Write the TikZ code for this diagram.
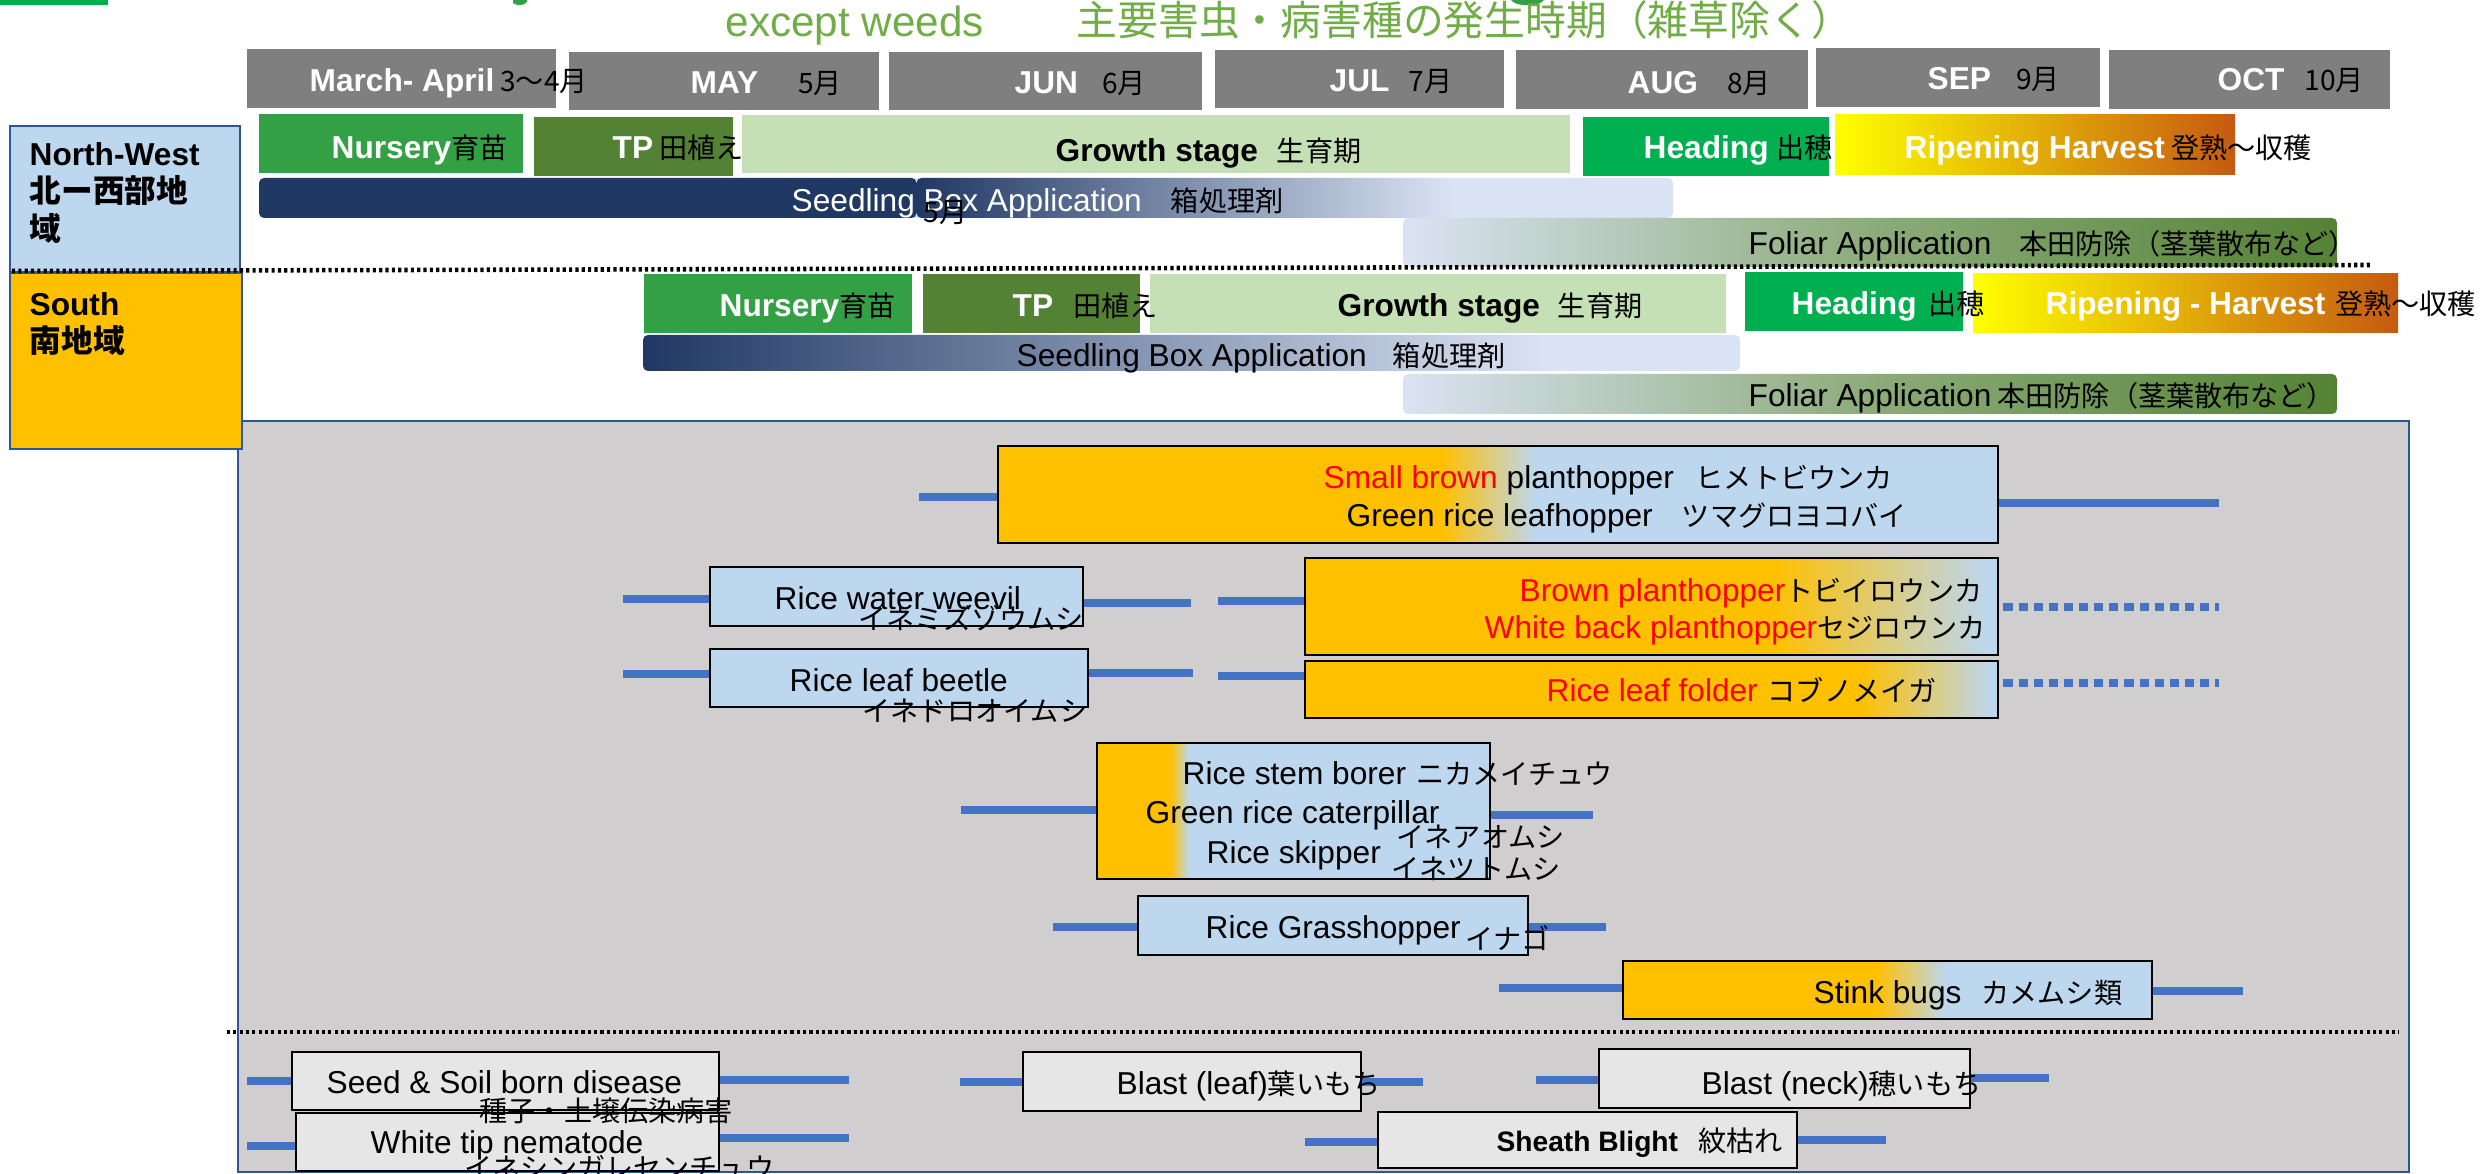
\documentclass[tikz,border=0pt]{standalone}
\usepackage{fontspec}
\setmainfont{Liberation Sans}
\newfontfamily\jp{Noto Sans CJK JP}
\usetikzlibrary{fit,calc}

\definecolor{hdrgray}{RGB}{127,127,127}
\definecolor{nursegreen}{RGB}{52,160,70}
\definecolor{tpgreen}{RGB}{84,130,53}
\definecolor{growthgreen}{RGB}{197,224,180}
\definecolor{headgreen}{RGB}{0,176,80}
\definecolor{ripeyellow}{RGB}{255,255,0}
\definecolor{ripebrown}{RGB}{197,90,17}
\definecolor{navy}{RGB}{32,56,100}
\definecolor{paleblue}{RGB}{218,227,243}
\definecolor{foliarmid}{RGB}{140,172,122}
\definecolor{nwblue}{RGB}{189,215,238}
\definecolor{southgold}{RGB}{255,192,0}
\definecolor{edgeblue}{RGB}{47,85,151}
\definecolor{panelgray}{RGB}{208,206,206}
\definecolor{pestorange}{RGB}{255,192,0}
\definecolor{pestblue}{RGB}{189,215,238}
\definecolor{diseasegray}{RGB}{231,230,230}
\definecolor{whiskerblue}{RGB}{68,114,196}
\definecolor{titlegreen}{RGB}{112,173,71}

\newcommand{\jtxt}[1]{{\jp\fontsize{8}{9}\selectfont #1}}
\newcommand{\wlab}[1]{\textbf{\color{white}#1}}

\begin{document}
\begin{tikzpicture}[x=0.01cm, y=-0.01cm]
% estilos separados
\tikzset{
  stage/.style={inner sep=0pt, draw=none},
  month/.style={stage, fill=hdrgray},
  txt/.style={inner sep=0pt, anchor=west, text height=1.5ex, text depth=.25ex, font=\fontsize{9}{10}\selectfont},
  multi/.style={inner sep=0pt, anchor=west, align=left, font=\bfseries\fontsize{9}{10.7}\selectfont},
  region/.style={inner sep=0pt, draw=edgeblue, line width=0.6pt},
  pest/.style={inner sep=0pt, draw=black, line width=0.8pt, fill=pestblue},
  disease/.style={pest, fill=diseasegray},
  whisker/.style={whiskerblue, line width=2pt},
  dotwhisker/.style={whisker, dash pattern=on 2.6pt off 1.7pt},
  cutline/.style={line width=1.3pt, dash pattern=on 0.9pt off 0.9pt},
  twotone/.style n args={4}{fill=#2, path picture={
    \fill[#1] (path picture bounding box.south west) rectangle
      ($(path picture bounding box.north west)!#3!(path picture bounding box.north east)$);
    \shade[left color=#1, right color=#2]
      ($(path picture bounding box.south west)!#3!(path picture bounding box.south east)$) rectangle
      ($(path picture bounding box.north west)!#4!(path picture bounding box.north east)$);
  }}
}
\useasboundingbox (0,0) rectangle (2483,1174);

% titulo (solo se ven restos)
\fill[headgreen] (0,0) rectangle (108,5);
\fill[nursegreen] (513,0) -- (527,0) -- (527,2) .. controls (524,6) and (516,6) .. (513,3) -- cycle;
\fill[nursegreen] (1511,0) .. controls (1515,7) and (1540,7) .. (1544,0) -- cycle;
\node[txt, text=titlegreen, font=\fontsize{12}{14}\selectfont] (sub) at (725,25) {except weeds};
\node[txt, text=titlegreen, font=\jp\fontsize{11.6}{13}\selectfont] (subjp) at (1076,24) {主要害虫・病害種の発生時期（雑草除く）};

% meses
\node[month, fit={(247,49) (556,108)}] (m-mar) {};
\node[month, fit={(569,52) (879,110)}] (m-may) {};
\node[month, fit={(889,52) (1202,110)}] (m-jun) {};
\node[month, fit={(1215,50) (1504,108)}] (m-jul) {};
\node[month, fit={(1516,50) (1808,109)}] (m-aug) {};
\node[month, fit={(1816,48) (2100,107)}] (m-sep) {};
\node[month, fit={(2109,50) (2390,109)}] (m-oct) {};

% panel de plagas
\node[inner sep=0pt, fill=panelgray, draw=edgeblue, line width=0.8pt, fit={(238,421) (2409,1172)}] (panel) {};

% regiones
\node[region, fill=nwblue, fit={(10,126) (240,272)}] (nw) {};
\node[region, fill=southgold, fit={(10,273) (242,449)}] (south) {};

% norte-oeste
\node[stage, fill=nursegreen, fit={(259,114) (523,173)}] (nw-nur) {};
\node[stage, fill=tpgreen, fit={(534,117) (733,176)}] (nw-tp) {};
\node[stage, fill=growthgreen, fit={(742,115) (1570,173)}] (nw-gro) {};
\node[stage, fill=headgreen, fit={(1583,117) (1829,176)}] (nw-head) {};
\node[stage, left color=ripeyellow, right color=ripebrown, fit={(1835,115) (2235,175)}] (nw-ripe) {};
\node[stage, rounded corners=0.5mm, twotone={navy}{paleblue}{0.465}{0.843}, fit={(259,178) (1673,218)}] (nw-seed) {};
\node[stage, rounded corners=0.5mm, left color=paleblue, right color=tpgreen, middle color=foliarmid, fit={(1403,218) (2337,267)}] (nw-fol) {};
\draw[cutline] (12,271) -- (2372,265);

% sur
\node[stage, fill=nursegreen, fit={(644,274) (912,333)}] (s-nur) {};
\node[stage, fill=tpgreen, fit={(923,274) (1140,333)}] (s-tp) {};
\node[stage, fill=growthgreen, fit={(1150,274) (1726,333)}] (s-gro) {};
\node[stage, fill=headgreen, fit={(1745,272) (1963,331)}] (s-head) {};
\node[stage, left color=ripeyellow, right color=ripebrown, fit={(1973,274) (2398,333)}] (s-ripe) {};
\node[stage, rounded corners=0.5mm, twotone={navy}{paleblue}{0}{0.82}, fit={(643,335) (1740,371)}] (s-seed) {};
\node[stage, rounded corners=0.5mm, left color=paleblue, right color=tpgreen, middle color=foliarmid, fit={(1403,374) (2337,414)}] (s-fol) {};

% plagas
\node[pest, twotone={pestorange}{pestblue}{0.443}{0.537}, fit={(998,446) (1998,543)}] (sbph) {};
\coordinate (sbph-l) at (919,497);
\coordinate (sbph-r) at (2219,503);
\draw[whisker] (sbph-l) -- (sbph-l -| sbph.west);
\draw[whisker] (sbph.east |- sbph-r) -- (sbph-r);

\node[pest, fit={(710,567) (1083,626)}] (rww) {};
\coordinate (rww-l) at (623,599);
\coordinate (rww-r) at (1191,603);
\draw[whisker] (rww-l) -- (rww-l -| rww.west);
\draw[whisker] (rww.east |- rww-r) -- (rww-r);

\node[pest, fit={(710,649) (1088,707)}] (rlb) {};
\coordinate (rlb-l) at (623,674);
\coordinate (rlb-r) at (1193,673);
\draw[whisker] (rlb-l) -- (rlb-l -| rlb.west);
\draw[whisker] (rlb.east |- rlb-r) -- (rlb-r);

\node[pest, twotone={pestorange}{pestblue}{0.675}{0.983}, fit={(1305,558) (1998,655)}] (bph) {};
\coordinate (bph-l) at (1218,601);
\coordinate (bph-r) at (2219,607);
\draw[whisker] (bph-l) -- (bph-l -| bph.west);
\draw[dotwhisker] (bph.east |- bph-r) ++(4,0) -- (bph-r);

\node[pest, twotone={pestorange}{pestblue}{0.8}{0.99}, fit={(1305,661) (1998,718)}] (rlf) {};
\coordinate (rlf-l) at (1218,676);
\coordinate (rlf-r) at (2219,683);
\draw[whisker] (rlf-l) -- (rlf-l -| rlf.west);
\draw[dotwhisker] (rlf.east |- rlf-r) ++(4,0) -- (rlf-r);

\node[pest, twotone={pestorange}{pestblue}{0.186}{0.234}, fit={(1097,743) (1490,879)}] (rsb) {};
\coordinate (rsb-l) at (961,810);
\coordinate (rsb-r) at (1593,815);
\draw[whisker] (rsb-l) -- (rsb-l -| rsb.west);
\draw[whisker] (rsb.east |- rsb-r) -- (rsb-r);

\node[pest, fit={(1138,896) (1528,955)}] (rgh) {};
\coordinate (rgh-l) at (1053,927);
\coordinate (rgh-r) at (1606,927);
\draw[whisker] (rgh-l) -- (rgh-l -| rgh.west);
\draw[whisker] (rgh.east |- rgh-r) -- (rgh-r);

\node[pest, twotone={pestorange}{pestblue}{0.478}{0.609}, fit={(1623,961) (2152,1019)}] (stb) {};
\coordinate (stb-l) at (1499,988);
\coordinate (stb-r) at (2243,991);
\draw[whisker] (stb-l) -- (stb-l -| stb.west);
\draw[whisker] (stb.east |- stb-r) -- (stb-r);

\draw[cutline] (227,1032) -- (2399,1032);

% enfermedades
\node[disease, fit={(292,1052) (719,1110)}] (ssd) {};
\coordinate (ssd-l) at (247,1081);
\coordinate (ssd-r) at (849,1080);
\draw[whisker] (ssd-l) -- (ssd-l -| ssd.west);
\draw[whisker] (ssd.east |- ssd-r) -- (ssd-r);

\node[disease, fit={(296,1113) (719,1171)}] (wtn) {};
\coordinate (wtn-l) at (247,1146);
\coordinate (wtn-r) at (849,1138);
\draw[whisker] (wtn-l) -- (wtn-l -| wtn.west);
\draw[whisker] (wtn.east |- wtn-r) -- (wtn-r);

\node[disease, fit={(1023,1052) (1361,1111)}] (blf) {};
\coordinate (blf-l) at (960,1082);
\coordinate (blf-r) at (1423,1082);
\draw[whisker] (blf-l) -- (blf-l -| blf.west);
\draw[whisker] (blf.east |- blf-r) -- (blf-r);

\node[disease, fit={(1599,1049) (1970,1108)}] (bnk) {};
\coordinate (bnk-l) at (1536,1080);
\coordinate (bnk-r) at (2049,1078);
\draw[whisker] (bnk-l) -- (bnk-l -| bnk.west);
\draw[whisker] (bnk.east |- bnk-r) -- (bnk-r);

\node[disease, fit={(1378,1112) (1797,1168)}] (shb) {};
\coordinate (shb-l) at (1305,1142);
\coordinate (shb-r) at (1886,1140);
\draw[whisker] (shb-l) -- (shb-l -| shb.west);
\draw[whisker] (shb.east |- shb-r) -- (shb-r);

% textos
\node[txt] (m-mar-t) at (309,80) {\wlab{March- April}\hspace{0.6mm}\jtxt{3～4月}};
\node[txt] (m-may-t) at (690,82) {\wlab{MAY}\hspace{4mm}\jtxt{5月}};
\node[txt] (m-jun-t) at (1014,82) {\wlab{JUN}\hspace{2.4mm}\jtxt{6月}};
\node[txt] (m-jul-t) at (1329,80) {\wlab{JUL}\hspace{1.9mm}\jtxt{7月}};
\node[txt] (m-aug-t) at (1627,82) {\wlab{AUG}\hspace{2.9mm}\jtxt{8月}};
\node[txt] (m-sep-t) at (1927,78) {\wlab{SEP}\hspace{2.5mm}\jtxt{9月}};
\node[txt] (m-oct-t) at (2217,79) {\wlab{OCT}\hspace{2mm}\jtxt{10月}};

\node[multi] (nw-t) at (29,193) {North-West\\{\jp 北ー西部地}\\{\jp 域}};
\node[multi] (south-t) at (29,324) {South\\{\jp 南地域}};

\node[txt] (nw-nur-t) at (331,147) {\wlab{Nursery}\jtxt{育苗}};
\node[txt] (nw-tp-t) at (612,147) {\wlab{TP}\hspace{0.6mm}\jtxt{田植え}};
\node[txt] (nw-gro-t) at (1055,150) {\textbf{Growth stage}\hspace{1.9mm}\jtxt{生育期}};
\node[txt] (nw-head-t) at (1643,147) {\wlab{Heading}\hspace{0.8mm}\jtxt{出穂}};
\node[txt] (nw-ripe-t) at (1904,147) {\wlab{Ripening Harvest}\hspace{0.6mm}\jtxt{登熟～収穫}};
\node[txt] (nw-seed-t) at (791,200) {\textcolor{white}{Seedling Box Application}\hspace{2.9mm}\jtxt{箱処理剤}};
\node[txt] (nw-may) at (923,211) {\jtxt{5月}};
\node[txt] (nw-fol-t) at (1748,243) {Foliar Application\hspace{2.8mm}\jtxt{本田防除（茎葉散布など）}};

\node[txt] (s-nur-t) at (719,305) {\wlab{Nursery}\jtxt{育苗}};
\node[txt] (s-tp-t) at (1012,305) {\wlab{TP}\hspace{2mm}\jtxt{田植え}};
\node[txt] (s-gro-t) at (1337,305) {\textbf{Growth stage}\hspace{1.8mm}\jtxt{生育期}};
\node[txt] (s-head-t) at (1791,303) {\wlab{Heading}\hspace{1.2mm}\jtxt{出穂}};
\node[txt] (s-ripe-t) at (2045,303) {\wlab{Ripening - Harvest}\hspace{1mm}\jtxt{登熟～収穫}};
\node[txt] (s-seed-t) at (1016,355) {Seedling Box Application\hspace{2.6mm}\jtxt{箱処理剤}};
\node[txt] (s-fol-t) at (1748,395) {Foliar Application\hspace{0.6mm}\jtxt{本田防除（茎葉散布など）}};

\node[txt] (sbph-t1) at (1323,477) {\textcolor{red}{Small brown} planthopper\hspace{2.2mm}\jtxt{ヒメトビウンカ}};
\node[txt] (sbph-t2) at (1346,515) {Green rice leafhopper\hspace{2.9mm}\jtxt{ツマグロヨコバイ}};
\node[txt] (rww-t) at (774,598) {Rice water weevil};
\node[txt] (rww-j) at (858,618) {\jtxt{イネミズゾウムシ}};
\node[txt] (rlb-t) at (789,680) {Rice leaf beetle};
\node[txt] (rlb-j) at (862,710) {\jtxt{イネドロオイムシ}};
\node[txt] (bph-t1) at (1519,590) {\textcolor{red}{Brown planthopper}\jtxt{トビイロウンカ}};
\node[txt] (bph-t2) at (1484,627) {\textcolor{red}{White back planthopper}\jtxt{セジロウンカ}};
\node[txt] (rlf-t) at (1546,690) {\textcolor{red}{Rice leaf folder}\hspace{1mm}\jtxt{コブノメイガ}};
\node[txt] (rsb-t1) at (1182,773) {Rice stem borer\hspace{1mm}\jtxt{ニカメイチュウ}};
\node[txt] (rsb-t2) at (1145,812) {Green rice caterpillar};
\node[txt] (rsb-j2) at (1396,836) {\jtxt{イネアオムシ}};
\node[txt] (rsb-t3) at (1206,852) {Rice skipper};
\node[txt] (rsb-j3) at (1391,868) {\jtxt{イネツトムシ}};
\node[txt] (rgh-t) at (1205,927) {Rice Grasshopper};
\node[txt] (rgh-j) at (1465,938) {\jtxt{イナゴ}};
\node[txt] (stb-t) at (1813,992) {Stink bugs\hspace{2mm}\jtxt{カメムシ類}};

\node[txt] (ssd-t) at (326,1082) {Seed \& Soil born disease};
\node[txt] (ssd-j) at (479,1110) {\jtxt{種子・土壌伝染病害}};
\node[txt] (wtn-t) at (370,1142) {White tip nematode};
\node[txt] (wtn-j) at (464,1167) {\jtxt{イネシンガレセンチュウ}};
\node[txt] (blf-t) at (1116,1083) {Blast (leaf)\jtxt{葉いもち}};
\node[txt] (bnk-t) at (1701,1083) {Blast (neck)\jtxt{穂いもち}};
\node[txt] (shb-t) at (1496,1140) {\textbf{\fontsize{8}{9}\selectfont Sheath Blight}\hspace{2mm}\jtxt{紋枯れ}};
\end{tikzpicture}
\end{document}
